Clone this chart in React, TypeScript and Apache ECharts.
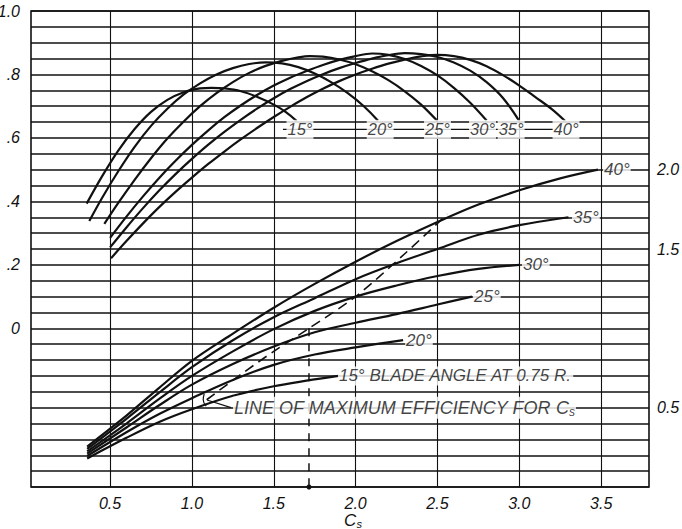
import React, { useEffect, useRef } from 'react';
import * as echarts from 'echarts';

// ---------- data ----------
const csTicks = [0.5, 1.0, 1.5, 2.0, 2.5, 3.0, 3.5];
const rightTickLabels = [0.5, 1.5, 2.0];
const angleNames = ['15°', '20°', '25°', '30°', '35°', '40°'];

// efficiency curves (left axis)
const eff15 = [[0.357,0.393],[0.45,0.478],[0.55,0.56],[0.65,0.628],[0.75,0.682],[0.85,0.72],[0.95,0.744],[1.05,0.756],[1.12,0.758],[1.2,0.756],[1.3,0.747],[1.4,0.729],[1.5,0.705],[1.57,0.683],[1.64,0.653]];
const eff20 = [[0.373,0.338],[0.45,0.41],[0.55,0.495],[0.65,0.572],[0.75,0.638],[0.85,0.692],[0.95,0.737],[1.05,0.772],[1.15,0.8],[1.25,0.82],[1.35,0.833],[1.45,0.838],[1.55,0.835],[1.65,0.823],[1.75,0.803],[1.85,0.776],[1.95,0.742],[2.05,0.70],[2.137,0.654]];
const eff25 = [[0.465,0.329],[0.55,0.395],[0.65,0.468],[0.75,0.536],[0.85,0.598],[0.95,0.652],[1.05,0.70],[1.15,0.741],[1.25,0.776],[1.35,0.805],[1.45,0.827],[1.55,0.843],[1.65,0.854],[1.72,0.858],[1.8,0.856],[1.9,0.847],[2.0,0.832],[2.1,0.81],[2.2,0.782],[2.3,0.747],[2.4,0.705],[2.5,0.653]];
const eff30 = [[0.5,0.285],[0.6,0.352],[0.7,0.415],[0.8,0.474],[0.9,0.528],[1.0,0.578],[1.1,0.624],[1.2,0.666],[1.3,0.703],[1.4,0.736],[1.5,0.765],[1.6,0.79],[1.7,0.811],[1.8,0.83],[1.9,0.846],[2.0,0.858],[2.1,0.866],[2.2,0.862],[2.3,0.849],[2.4,0.827],[2.5,0.797],[2.6,0.758],[2.7,0.711],[2.8,0.655]];
const eff35 = [[0.5,0.255],[0.6,0.318],[0.7,0.378],[0.8,0.434],[0.9,0.486],[1.0,0.534],[1.1,0.579],[1.2,0.62],[1.3,0.658],[1.4,0.693],[1.5,0.725],[1.6,0.754],[1.7,0.779],[1.8,0.801],[1.9,0.82],[2.0,0.836],[2.1,0.85],[2.2,0.861],[2.3,0.867],[2.4,0.864],[2.5,0.855],[2.6,0.838],[2.7,0.812],[2.8,0.776],[2.9,0.726],[3.0,0.653]];
const eff40 = [[0.506,0.221],[0.6,0.275],[0.7,0.33],[0.8,0.382],[0.9,0.43],[1.0,0.475],[1.1,0.518],[1.2,0.558],[1.3,0.596],[1.4,0.632],[1.5,0.666],[1.6,0.698],[1.7,0.728],[1.8,0.755],[1.9,0.779],[2.0,0.8],[2.1,0.818],[2.2,0.834],[2.3,0.847],[2.4,0.857],[2.5,0.862],[2.6,0.858],[2.7,0.846],[2.8,0.826],[2.9,0.798],[3.0,0.765],[3.1,0.728],[3.2,0.69],[3.28,0.653]];

// blade-angle (pitch) curves (right axis)
const pitch15 = [[0.36,0.18],[0.6,0.31],[0.8,0.41],[1.0,0.49],[1.25,0.575],[1.5,0.635],[1.7,0.67],[1.895,0.70]];
const pitch20 = [[0.36,0.195],[0.6,0.345],[0.8,0.46],[1.0,0.56],[1.25,0.675],[1.5,0.77],[1.75,0.835],[2.0,0.88],[2.29,0.926]];
const pitch25 = [[0.36,0.21],[0.6,0.375],[0.8,0.515],[1.0,0.645],[1.25,0.775],[1.5,0.885],[1.75,0.975],[2.0,1.035],[2.25,1.09],[2.5,1.15],[2.71,1.20]];
const pitch30 = [[0.36,0.225],[0.6,0.40],[0.8,0.555],[1.0,0.70],[1.25,0.855],[1.5,0.995],[1.75,1.11],[2.0,1.20],[2.25,1.27],[2.5,1.33],[2.75,1.375],[3.0,1.40]];
const pitch35 = [[0.36,0.24],[0.6,0.43],[0.8,0.595],[1.0,0.755],[1.25,0.925],[1.5,1.07],[1.75,1.19],[2.0,1.31],[2.25,1.41],[2.5,1.50],[2.75,1.59],[3.0,1.65],[3.3,1.70]];
const pitch40 = [[0.36,0.255],[0.6,0.45],[0.8,0.625],[1.0,0.795],[1.233,0.955],[1.5,1.13],[1.75,1.28],[2.0,1.42],[2.25,1.55],[2.5,1.67],[2.75,1.78],[3.0,1.87],[3.25,1.945],[3.48,2.0]];

// line of maximum efficiency (right axis) and the vertical reference
const maxEffLine = [[1.09,0.55],[1.3,0.71],[1.5,0.855],[1.715,1.0],[2.0,1.2],[2.3,1.47],[2.56,1.72]];
const maxEffVertical = [[1.715,1.0],[1.715,0]];

// ---------- layout (positions of annotations, in data units) ----------
const effLabelRow = 0.627;
const effLabelCs = [1.66, 2.15, 2.50, 2.775, 2.95, 3.285];
const effLabelLine = [[1.556, effLabelRow], [3.206, effLabelRow]];
const pitchLabelPos = [[1.892,0.70],[2.302,0.926],[2.717,1.2],[3.016,1.4],[3.322,1.7],[3.511,2.0]];
const pitchLabelText = ['15° BLADE ANGLE AT 0.75 R.', '20°', '25°', '30°', '35°', '40°'];
const maxEffLabelPos = [1.251, 0.5];
const maxEffLeader = [[1.239,0.5],[1.092,0.548]];
const maxEffBracket = [[1.075,0.586],[1.069,0.55],[1.087,0.51]];
const X_MIN = 0.017, X_MAX = 3.792;

const INK = '#111111';
const FONT = '"Liberation Sans", Arial, sans-serif';

export default function App() {
  const ref = useRef<HTMLDivElement>(null);
  useEffect(() => {
    if (!ref.current) return;
    const chart = echarts.init(ref.current, undefined, { renderer: 'svg' });
    const effSets = [eff15, eff20, eff25, eff30, eff35, eff40];
    const pitchSets = [pitch15, pitch20, pitch25, pitch30, pitch35, pitch40];
    const curve = (name: string, data: number[][], yAxisIndex: number) => ({
      name, type: 'line', data, yAxisIndex, showSymbol: false, symbol: 'none', smooth: 0.35,
      itemStyle: { color: INK }, lineStyle: { color: INK, width: 2.2 }, z: 3, silent: true,
    });
    const thin = (data: any[], yAxisIndex: number, ls: any = {}, extra: any = {}) => ({
      type: 'line', data, yAxisIndex, symbol: 'none', showSymbol: false, silent: true,
      itemStyle: { color: INK },
      lineStyle: { color: INK, width: 1.2, ...ls }, z: 2, ...extra,
    });
    const txt = {
      fontFamily: FONT, fontStyle: 'italic', fontSize: 17, color: INK,
      backgroundColor: '#fff', padding: [1, 1, 1, 1], textBorderWidth: 0,
    };
    const series: any[] = [];
    effSets.forEach((d, i) => series.push(curve('eff ' + angleNames[i], d, 0)));
    pitchSets.forEach((d, i) => series.push(curve('pitch ' + angleNames[i], d, 1)));
    series.push(thin(maxEffLine, 1, { type: [10, 6], width: 1.6 }, { smooth: 0.3 }));
    series.push({
      type: 'line', yAxisIndex: 1, silent: true, z: 2,
      data: [{ value: maxEffVertical[0], symbol: 'none' }, { value: maxEffVertical[1], symbol: 'circle', symbolSize: 5 }],
      showSymbol: true, itemStyle: { color: INK },
      lineStyle: { color: INK, width: 1.5, type: [8, 7] },
    });
    series.push(thin(effLabelLine, 0));
    series.push(thin(maxEffLeader, 1));
    series.push(thin(maxEffBracket, 1, {}, { smooth: 0.5 }));
    series.push({
      type: 'scatter', yAxisIndex: 0, symbolSize: 0, silent: true, z: 10, itemStyle: { color: INK },
      data: angleNames.map((n, i) => ({ name: n, value: [effLabelCs[i], effLabelRow] })),
      label: { show: true, position: 'inside', formatter: '{b}', ...txt, fontSize: 16.5 },
    });
    series.push({
      type: 'scatter', yAxisIndex: 1, symbolSize: 0, silent: true, z: 10, itemStyle: { color: INK },
      data: pitchLabelText.map((n, i) => ({ name: n, value: pitchLabelPos[i] })),
      label: { show: true, position: 'right', distance: 0, formatter: '{b}', ...txt },
    });
    series.push({
      type: 'scatter', yAxisIndex: 1, symbolSize: 0, silent: true, z: 10, itemStyle: { color: INK },
      data: [{ name: 'max', value: maxEffLabelPos }],
      label: {
        show: true, position: 'right', distance: 0, ...txt, fontSize: 18,
        formatter: 'LINE OF MAXIMUM EFFICIENCY FOR {c|C}{s|s}',
        rich: {
          c: { fontFamily: FONT, fontStyle: 'italic', fontSize: 18, color: INK },
          s: { fontFamily: FONT, fontStyle: 'italic', fontSize: 12, color: INK, padding: [8, 0, 0, 0] },
        },
      },
    });

    chart.setOption({
      animation: false,
      backgroundColor: '#fff',
      grid: {
        left: 31, right: 33, top: 11, bottom: 42, containLabel: false, outerBoundsMode: 'none',
        show: true, borderColor: INK, borderWidth: 1.6, backgroundColor: 'transparent',
      },
      xAxis: {
        type: 'value', min: X_MIN, max: X_MAX,
        axisLine: { show: false }, axisTick: { show: false, customValues: csTicks },
        splitLine: { show: true, lineStyle: { color: INK, width: 1.1 } },
        axisLabel: {
          customValues: csTicks, margin: 8, fontFamily: FONT, fontStyle: 'italic', fontSize: 16, color: INK,
          formatter: (v: number) => v.toFixed(1),
        },
        name: '{c|C}{s|s}', nameLocation: 'middle', nameGap: 24, nameMoveOverlap: false,
        nameTextStyle: {
          padding: [0, 0, 0, 26], verticalAlign: 'top',
          rich: {
            c: { fontFamily: FONT, fontStyle: 'italic', fontSize: 17, color: INK },
            s: { fontFamily: FONT, fontStyle: 'italic', fontSize: 11, color: INK, padding: [7, 0, 0, 0] },
          },
        },
      },
      yAxis: [
        {
          type: 'value', min: -0.5, max: 1.0, interval: 0.05,
          axisLine: { show: false }, axisTick: { show: false },
          splitLine: { show: true, lineStyle: { color: INK, width: 1.6 } },
          axisLabel: {
            margin: 11, fontFamily: FONT, fontStyle: 'italic', fontSize: 16, color: INK,
            formatter: (v: number) => {
              const r = Math.round(v * 100);
              if (r < 0 || r % 20 !== 0) return '';
              if (r === 100) return '1.0';
              if (r === 0) return '0';
              return '.' + (r / 10);
            },
          },
        },
        {
          type: 'value', min: 0, max: 3.0, interval: 0.5, position: 'right',
          axisLine: { show: false }, axisTick: { show: false }, splitLine: { show: false },
          axisLabel: {
            margin: 8, fontFamily: FONT, fontStyle: 'italic', fontSize: 16, color: INK,
            formatter: (v: number) => (rightTickLabels.some((t) => Math.abs(t - v) < 1e-6) ? v.toFixed(1) : ''),
          },
        },
      ],
      series,
    });
    return () => chart.dispose();
  }, []);
  return <div ref={ref} style={{ position: 'fixed', left: 0, top: 0, width: 682, height: 529 }} />;
}
